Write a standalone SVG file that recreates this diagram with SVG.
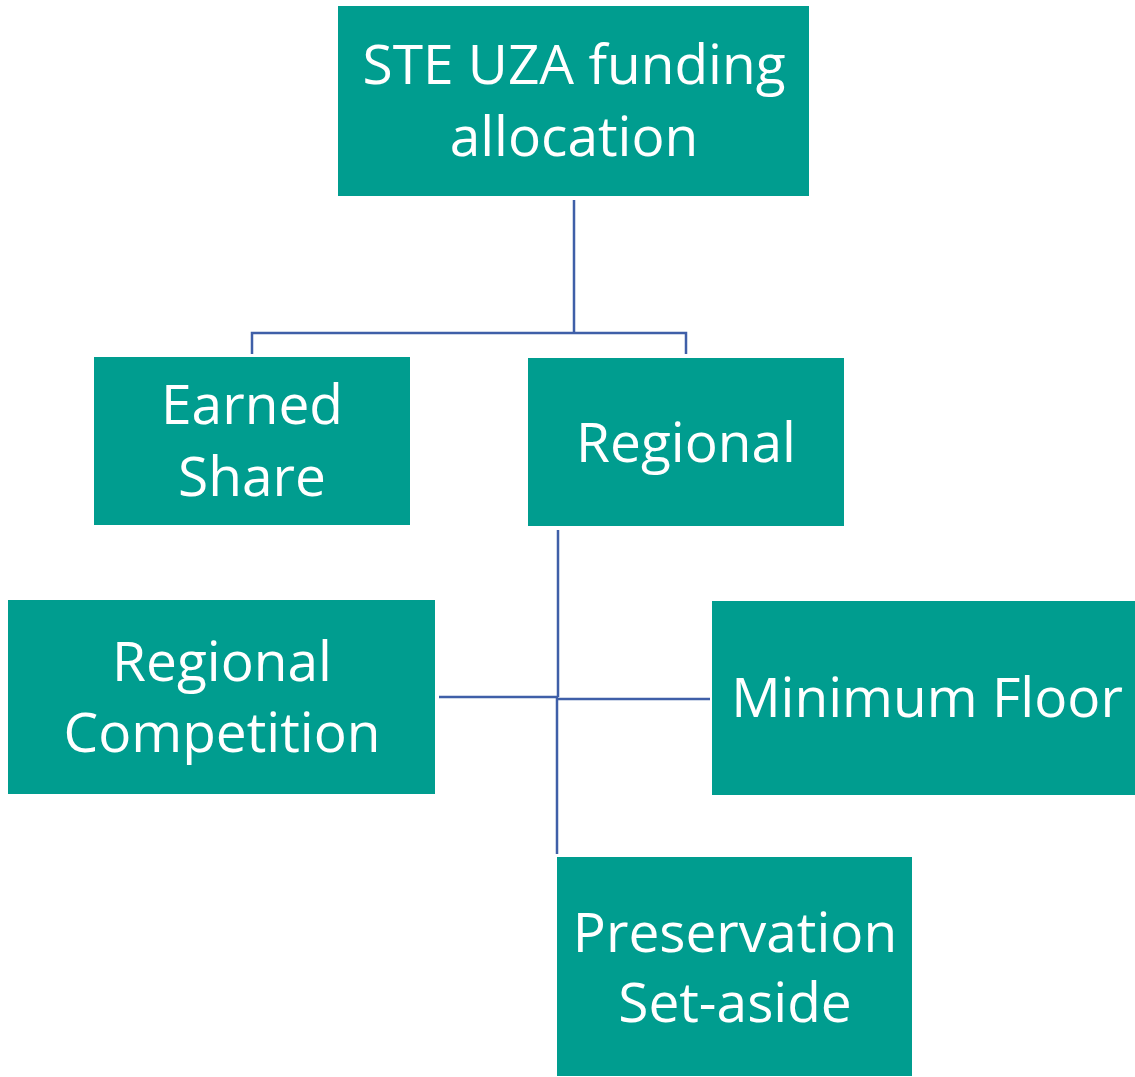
<svg xmlns="http://www.w3.org/2000/svg" width="1135" height="1077" viewBox="0 0 1135 1077">
<style>
.box{fill:#009D8F}
.t{fill:#ffffff;font-family:"Open Sans","Liberation Sans",sans-serif;font-size:55px;text-anchor:middle}
.c{stroke:#3F5FA8;stroke-width:2.5;fill:none}
</style>
<rect width="1135" height="1077" fill="#ffffff"/>
<g id="connectors">
<path class="c" d="M574 200 V332 M252 354 V333 H574 M574 333 H686 V354"/>
<path class="c" d="M558 530 V697 M557 697 V854 M439 697 H557 M558 699 H710"/>
</g>
<g id="n-top"><rect class="box" x="338" y="6" width="471" height="190"/>
<text class="t" x="574" y="84">STE UZA funding</text><text class="t" x="574" y="156">allocation</text></g>
<g id="n-earned"><rect class="box" x="94" y="357" width="316" height="168"/>
<text class="t" x="252" y="424">Earned</text><text class="t" x="252" y="496">Share</text></g>
<g id="n-regional"><rect class="box" x="528" y="358" width="316" height="168"/>
<text class="t" x="686" y="462">Regional</text></g>
<g id="n-competition"><rect class="box" x="8" y="600" width="427" height="194"/>
<text class="t" x="222" y="681">Regional</text><text class="t" x="222" y="752">Competition</text></g>
<g id="n-floor"><rect class="box" x="712" y="601" width="423" height="194"/>
<text class="t" x="927" y="717">Minimum Floor</text></g>
<g id="n-preservation"><rect class="box" x="557" y="857" width="355" height="219"/>
<text class="t" x="735" y="952">Preservation</text><text class="t" x="735" y="1022">Set-aside</text></g>
</svg>
